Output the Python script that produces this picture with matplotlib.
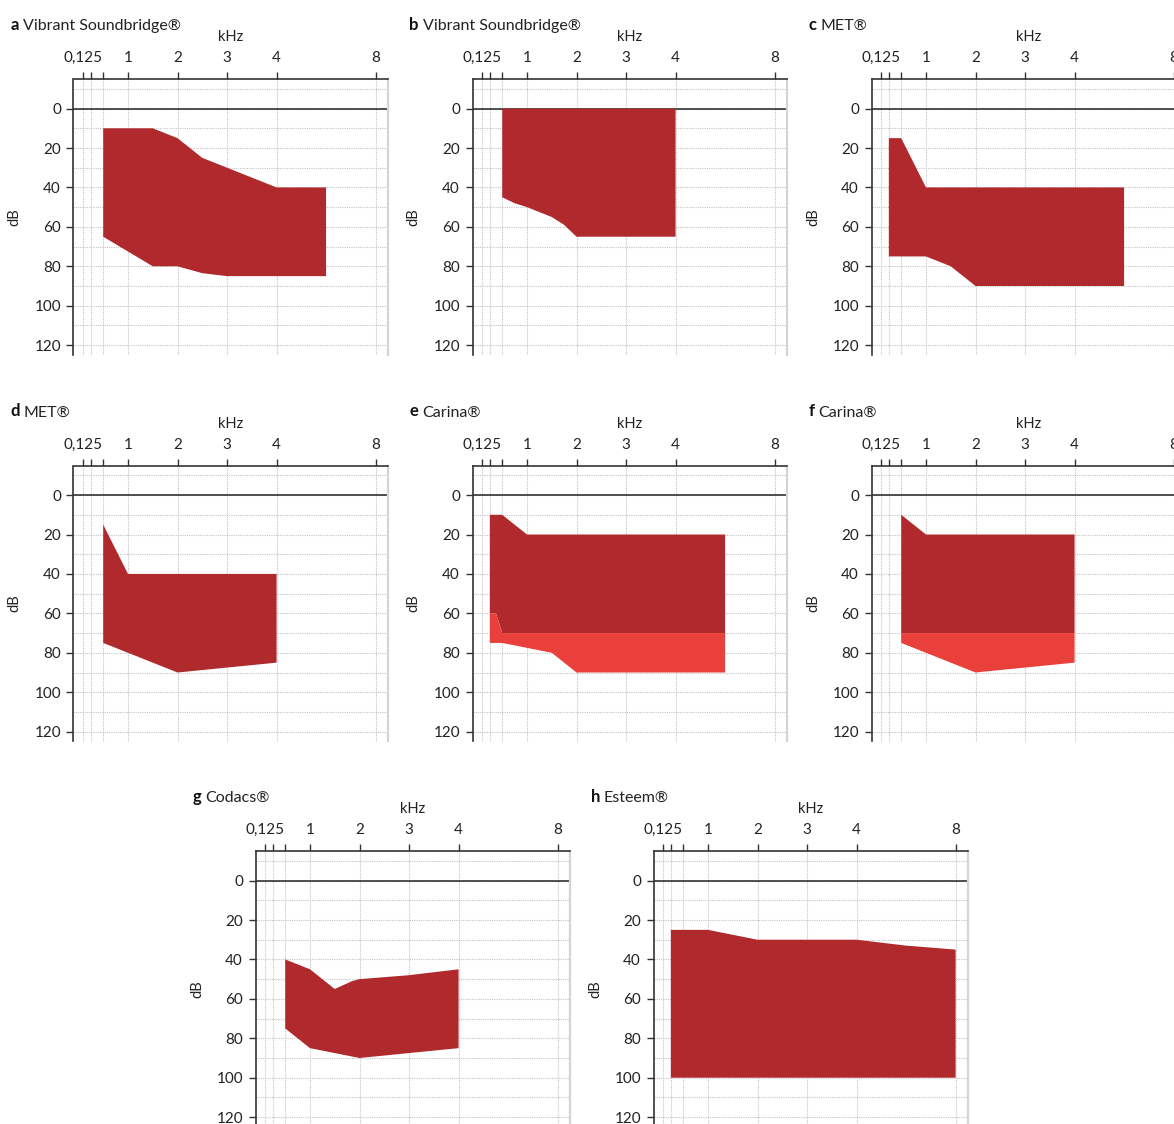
import numpy as np
import matplotlib
matplotlib.use('Agg')
import matplotlib.pyplot as plt
from matplotlib.ticker import MultipleLocator, NullLocator

plt.rcParams['font.family'] = ['Lato', 'DejaVu Sans']
plt.rcParams['font.size'] = 10.5

# Frequenzachse: Audiogramm-Raster (kHz -> Position)
SCALE_KHZ = [0.0, 0.125, 0.25, 0.5, 1, 2, 3, 4, 8, 16]
SCALE_POS = [-1.4, -0.9, -0.75, -0.5, 0, 1, 2, 3, 5, 7]

x_ticks = [0.125, 0.25, 0.5, 1, 2, 3, 4, 8]
x_tick_labels = ['0,125', '', '', '1', '2', '3', '4', '8']
y_ticks = [0, 20, 40, 60, 80, 100, 120]

DARK = '#b0292d'
LIGHT = '#e9403b'

# a Vibrant Soundbridge
a_upper_khz = [0.5, 1.5, 2, 2.5, 3, 3.5, 4, 6]
a_upper_db = [10, 10, 15, 25, 30, 35, 40, 40]
a_lower_khz = [0.5, 1.5, 2, 2.5, 3, 6]
a_lower_db = [65, 80, 80, 83.5, 85, 85]

# b Vibrant Soundbridge
b_upper_khz = [0.5, 4]
b_upper_db = [0, 0]
b_lower_khz = [0.5, 0.75, 1, 1.5, 1.75, 2, 4]
b_lower_db = [45, 48, 50, 55, 59, 65, 65]

# c MET
c_upper_khz = [0.25, 0.5, 1, 6]
c_upper_db = [15, 15, 40, 40]
c_lower_khz = [0.25, 1, 1.5, 2, 6]
c_lower_db = [75, 75, 80, 90, 90]

# d MET
d_upper_khz = [0.5, 1, 4]
d_upper_db = [15, 40, 40]
d_lower_khz = [0.5, 1, 2, 4]
d_lower_db = [75, 80, 90, 85]

# e Carina
e_upper_khz = [0.25, 0.5, 1, 6]
e_upper_db = [10, 10, 20, 20]
e_mid_khz = [0.25, 0.375, 0.5, 6]
e_mid_db = [60, 60, 70, 70]
e_lower_khz = [0.25, 0.5, 1, 1.5, 2, 6]
e_lower_db = [75, 75, 77.5, 80, 90, 90]

# f Carina
f_upper_khz = [0.5, 1, 4]
f_upper_db = [10, 20, 20]
f_mid_khz = [0.5, 4]
f_mid_db = [70, 70]
f_lower_khz = [0.5, 1, 2, 4]
f_lower_db = [75, 80, 90, 85]

# g Codacs
g_upper_khz = [0.5, 1, 1.5, 1.85, 2, 2.5, 3, 4]
g_upper_db = [40, 45, 55, 51, 50, 49, 48, 45]
g_lower_khz = [0.5, 1, 2, 3, 4]
g_lower_db = [75, 85, 90, 87.5, 85]

# h Esteem
h_upper_khz = [0.25, 1, 2, 4, 5, 6, 8]
h_upper_db = [25, 25, 30, 30, 31.5, 33, 35]
h_lower_khz = [0.25, 8]
h_lower_db = [100, 100]


def fwd(f):
    return np.interp(f, SCALE_KHZ, SCALE_POS)


def inv(p):
    return np.interp(p, SCALE_POS, SCALE_KHZ)


def band(ax, up_x, up_y, lo_x, lo_y, color):
    xs = list(up_x) + list(lo_x)[::-1]
    ys = list(up_y) + list(lo_y)[::-1]
    ax.fill(xs, ys, color=color, lw=0, zorder=2)


W, H = 1174, 1124
fig = plt.figure(figsize=(W / 100, H / 100), dpi=100)


def make_axes(offx, offy, letter, name):
    left, top, w, h = 73.5 + offx, 79 + offy, 314.5, 276
    ax = fig.add_axes([left / W, 1 - (top + h) / H, w / W, h / H])
    ax.set_xscale('function', functions=(fwd, inv))
    ax.set_xlim(0.075, 9)
    ax.set_ylim(125, -15)
    ax.set_xticks(x_ticks)
    ax.set_xticklabels(x_tick_labels)
    ax.xaxis.set_minor_locator(NullLocator())
    ax.set_yticks(y_ticks)
    ax.yaxis.set_minor_locator(MultipleLocator(10))
    ax.xaxis.tick_top()
    ax.xaxis.set_label_position('top')
    ax.set_xlabel('kHz', labelpad=7, color='#222')
    ax.set_ylabel('dB', labelpad=9, color='#222')
    ax.tick_params(which='major', direction='out', length=5, width=1,
                   color='#333', labelcolor='#222', pad=4, labelsize=11)
    ax.tick_params(axis='x', pad=5)
    ax.tick_params(which='minor', length=0)
    ax.grid(which='both', axis='y', color='#c4c4c4', ls=(0, (1, 1)), lw=0.8)
    ax.grid(which='major', axis='x', color='#c4c4c4', ls=(0, (1, 1)), lw=0.8)
    ax.set_axisbelow(True)
    for s in ['top', 'left']:
        ax.spines[s].set_color('#333')
        ax.spines[s].set_linewidth(1.2)
    ax.spines['bottom'].set_visible(False)
    ax.spines['right'].set_color('#d4d4d4')
    ax.spines['right'].set_linewidth(1.6)
    ax.axhline(0, color='#333', lw=1.2, zorder=1)
    t = ax.annotate(letter, xy=(0, 1), xycoords='axes fraction',
                    xytext=(-63, 49), textcoords='offset pixels',
                    fontweight='bold', fontsize=12, color='#111',
                    ha='left', va='baseline', annotation_clip=False)
    ax.annotate(name, xy=(1, 0), xycoords=t, xytext=(4, 0),
                textcoords='offset pixels', fontsize=11.5, color='#222',
                ha='left', va='bottom', annotation_clip=False)
    return ax


ax = make_axes(0, 0, 'a', 'Vibrant Soundbridge®')
band(ax, a_upper_khz, a_upper_db, a_lower_khz, a_lower_db, DARK)

ax = make_axes(399, 0, 'b', 'Vibrant Soundbridge®')
band(ax, b_upper_khz, b_upper_db, b_lower_khz, b_lower_db, DARK)

ax = make_axes(798, 0, 'c', 'MET®')
band(ax, c_upper_khz, c_upper_db, c_lower_khz, c_lower_db, DARK)

ax = make_axes(0, 386.5, 'd', 'MET®')
band(ax, d_upper_khz, d_upper_db, d_lower_khz, d_lower_db, DARK)

ax = make_axes(399, 386.5, 'e', 'Carina®')
band(ax, e_upper_khz, e_upper_db, e_mid_khz, e_mid_db, DARK)
band(ax, e_mid_khz, e_mid_db, e_lower_khz, e_lower_db, LIGHT)

ax = make_axes(798, 386.5, 'f', 'Carina®')
band(ax, f_upper_khz, f_upper_db, f_mid_khz, f_mid_db, DARK)
band(ax, f_mid_khz, f_mid_db, f_lower_khz, f_lower_db, LIGHT)

ax = make_axes(182, 772, 'g', 'Codacs®')
band(ax, g_upper_khz, g_upper_db, g_lower_khz, g_lower_db, DARK)

ax = make_axes(580, 772, 'h', 'Esteem®')
band(ax, h_upper_khz, h_upper_db, h_lower_khz, h_lower_db, DARK)

fig.savefig('out.png', dpi=100)
